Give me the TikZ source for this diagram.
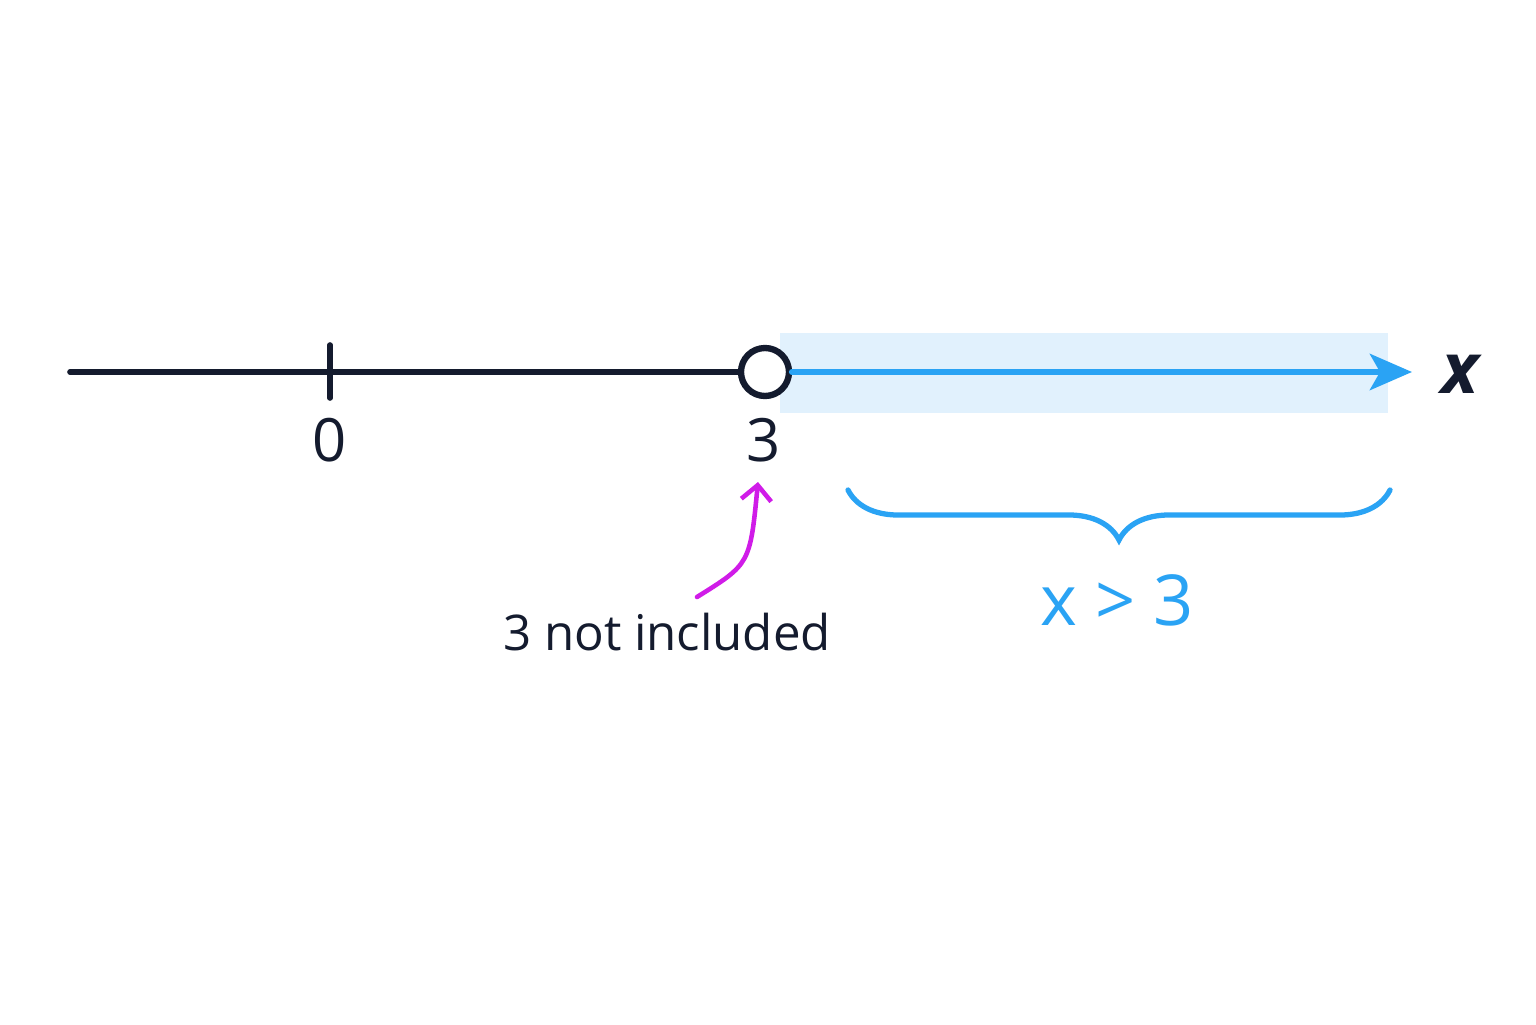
\documentclass[tikz,border=0pt]{standalone}
\usepackage{fontspec}
\setmainfont{Open Sans}
\usepackage{xcolor}
\usepackage{tikz}
\usetikzlibrary{positioning}
\usetikzlibrary{arrows.meta}
\usetikzlibrary{decorations.pathreplacing}
\definecolor{axisnavy}{HTML}{141B2E}
\definecolor{rayblue}{HTML}{2AA3F4}
\definecolor{shadeblue}{HTML}{E1F1FD}
\definecolor{notemag}{HTML}{D01CE8}

\begin{document}
\begin{tikzpicture}[
    line cap=round,
    font=\fontsize{16}{18}\selectfont,
    axis/.style={draw=axisnavy, line width=1.6pt},
    ray/.style={draw=rayblue, line width=1.9pt},
    num/.style={text=axisnavy, font=\fontsize{17}{19}\selectfont}
    ]
\useasboundingbox[fill=white] (0,0) rectangle (15.36,10.24);
% shaded solution band
\fill[shadeblue] (7.80,6.11) rectangle (13.88,6.91);

\coordinate (start) at (0.70,6.52);
\coordinate (zero) at (3.30,6.52);
\node[circle, draw=axisnavy, line width=1.8pt, fill=white, minimum size=0.48cm, inner sep=0pt] (open) at (7.65,6.52) {};
\coordinate (tip) at (14.12,6.52);

\draw[axis] (start) -- (open.west);
\draw[axis] ([yshift=0.27cm]zero) -- ([yshift=-0.26cm]zero);
\draw[ray, -{Stealth[length=0.42cm, width=0.36cm, inset=0.1cm]}] (open.east) -- (tip);

\node[num] (lzero) at (3.30,5.84) {0};
\node[num] (lthree) at (7.64,5.84) {3};
\node[text=axisnavy, font=\fontsize{20}{22}\selectfont\bfseries\itshape] (xvar) at (14.60,6.50) {x};

% brace under the ray
\coordinate (bl) at (8.48,5.34);
\coordinate (br) at (13.90,5.34);
\draw[rayblue, line width=1.5pt, decorate, decoration={brace, mirror, amplitude=0.5cm}] (bl) -- (br);
\node[text=rayblue, font=\fontsize{20}{22}\selectfont] (ineq) at (11.17,4.24) {x > 3};

% note on the open end point
\node[text=axisnavy, font=\fontsize{14}{16}\selectfont] (note) at (6.67,3.92) {3 not included};
\coordinate (nstart) at (6.97,4.27);
\coordinate (nend) at (7.58,5.42);
\draw[notemag, line width=1.3pt, -{Straight Barb[length=0.15cm]}] (nstart) .. controls (7.50,4.60) .. (nend);
\end{tikzpicture}
\end{document}
